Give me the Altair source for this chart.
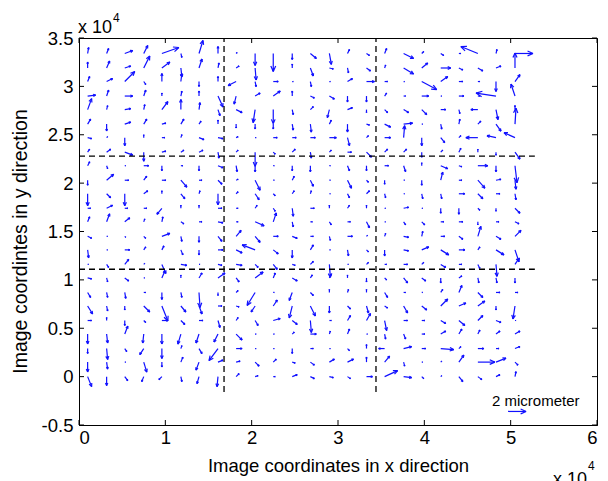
import math
import altair as alt
import pandas as pd

# ---------------- data ----------------
# grid positions of the arrows (x 10^4 image coordinates)
X_POS = [0.10, 0.32, 0.53, 0.75, 0.96, 1.18, 1.39, 1.61,
         1.82, 2.04, 2.25, 2.47, 2.68, 2.90, 3.11, 3.33,
         3.54, 3.76, 3.97, 4.19, 4.40, 4.62, 4.83, 5.05]
Y_POS = [0.00, 0.15, 0.29, 0.44, 0.58, 0.73, 0.87, 1.02,
         1.16, 1.31, 1.45, 1.60, 1.74, 1.89, 2.03, 2.18,
         2.32, 2.47, 2.61, 2.76, 2.90, 3.05, 3.19, 3.34]   # bottom -> top

# displacement components, top row first (units: 1/9 micrometre)
U_ROWS = [
    [1, 2, 8, 4, 17, 1, 4, 0, 1, 0, 0, 0, 6, 2, 2, 3, 2, 10, 2, 3, 2, -17, 1, 18],
    [0, 3, 6, 6, 8, 1, 3, 1, 3, 1, 0, 0, 3, 4, 1, 4, 1, 10, 6, 10, 4, 5, 5, 0],
    [2, 6, 10, 2, 0, 1, 0, 0, -8, 1, 5, 1, 1, 1, 5, 8, 3, 1, 15, 7, 4, 2, 0, 5],
    [8, 2, 8, 2, 0, 1, 0, 5, -2, 5, 7, 0, 4, 5, 0, 0, 2, 2, 7, 1, 5, 2, -20, -4],
    [4, 1, 6, 1, 6, 0, 1, 2, 6, -2, 0, 1, 3, -2, 5, 0, 3, 5, 5, 5, 1, -7, 2, 0],
    [3, 0, 6, 3, 4, 3, 2, 0, 0, 0, 0, 1, 1, 2, 0, 3, 6, 9, 1, 1, 1, 3, 5, 1],
    [4, 1, 0, 0, 3, 1, 5, 5, 2, 1, 4, 4, 5, 7, 2, 2, 6, 1, 0, 4, 2, -12, -9, -11],
    [2, 4, 8, 0, 4, 3, 4, 1, 2, 0, 2, 3, 1, 2, 4, 5, 3, 3, 0, 2, 2, 0, 0, 5],
    [2, 1, 1, 5, 0, 2, 0, 5, 1, 0, 1, 0, 0, 1, 2, 0, 4, 2, 0, 7, 3, 10, 0, 2],
    [0, 7, 4, 3, 4, 6, 3, 4, 2, 5, 1, 2, 3, 1, 4, 2, 0, 1, 0, 2, 3, 7, 5, 1],
    [0, 4, 0, 4, 0, 4, 1, 0, 2, 4, 2, 2, 1, 1, 2, 3, 1, 1, 1, 1, 6, 5, 4, 1],
    [3, 6, 3, 3, -5, 0, 0, 4, 2, 2, 2, 1, 4, 0, 2, 0, 1, 5, 1, 0, 0, 2, 0, 5],
    [2, 3, 5, 1, 1, 3, 3, 5, 2, 9, 3, 1, 2, 2, 3, 3, 1, 2, 3, 3, 4, 0, 3, 4],
    [4, 1, 1, 2, 8, 1, 0, 4, 5, 5, 5, 5, 3, 1, 5, 1, 1, 5, 1, 4, 4, 3, 5, 6],
    [1, 1, 5, 2, 2, 2, 0, 5, 6, -13, 5, 0, 3, 1, 1, 2, 0, 5, 7, 8, 6, 2, 8, 4],
    [1, 2, 4, 1, 4, 6, 1, 4, 6, 3, 4, 3, 3, 1, 1, 2, 2, 4, 2, 5, 3, 2, 1, 4],
    [4, 1, 4, 1, 3, 0, 3, 7, 3, 8, 2, 5, 2, 2, 0, 0, 2, 4, 4, 0, 3, 1, 1, 0],
    [3, 1, 1, 2, 0, 1, 1, 0, 2, -8, 1, -3, 3, 0, 1, 0, 3, 2, 1, 2, 3, 5, 4, 3],
    [5, 1, 0, 6, 6, 5, 3, 4, 3, -4, 4, -3, 5, 0, 3, 2, 3, 4, 5, 7, 7, 7, 0, -2],
    [4, 0, 0, 2, 6, 4, 4, 2, 2, 3, 7, 5, 1, 2, 3, 4, 2, 4, 3, 5, 6, 5, 5, 1],
    [0, 1, 3, -1, 0, -3, -3, -4, 6, 1, 1, 2, 6, 1, 2, 1, 1, 2, 3, 5, 3, 2, 4, 5],
    [0, 1, 2, -4, 0, 1, 3, -9, 6, 1, 1, 0, 3, 1, 2, 0, -6, 8, 4, 13, 2, 6, 3, 5],
    [0, 1, 1, 3, 0, 2, -3, 5, 4, 4, 3, 3, 4, 5, 6, 0, 5, 1, 1, 1, 5, 17, 10, 3],
    [4, 0, 3, -2, -3, 1, -2, -1, 3, 3, 2, 5, 4, 4, 3, 6, 13, 8, 2, 1, 4, 4, 4, 1],
]
V_ROWS = [
    [6, 5, 3, 8, 6, -4, 13, 7, 1, -12, -18, -6, -5, -11, 4, -2, 5, -5, 2, -2, 0, 7, 4, 0],
    [6, 7, 2, 12, 6, -9, 9, 5, 2, -12, -3, 4, -8, -1, -5, -3, 3, -6, 5, 0, -2, -3, 2, 15],
    [5, 3, 10, -3, 8, 8, -5, 5, -4, -5, 0, 0, -5, 0, 3, 0, 0, 0, -8, 5, 0, 0, -10, 7],
    [1, 6, 0, 6, 3, 5, 5, -11, -8, 3, 5, 5, -2, -3, -6, -6, 3, 0, 0, 0, 0, 0, 3, 12],
    [11, 4, 1, 5, 8, 10, 7, -6, -3, -13, -14, -5, 3, -8, 2, -3, -3, -3, -5, 0, -4, 0, -10, 4],
    [5, -7, 2, 5, 1, 5, 3, 4, -4, -5, -5, -6, -8, 4, -8, -1, -3, 1, 0, -5, 5, 3, -7, 16],
    [-1, 1, -8, 3, 0, 3, -2, -1, 1, 0, 0, 0, 0, 0, -8, 2, 0, 12, -8, -5, 2, 0, 2, 5],
    [3, 3, -3, -9, 1, 2, 2, -6, 2, -14, -2, 3, -6, 2, 0, -5, 3, 3, -5, 2, 4, 3, -3, -7],
    [4, -3, 0, 0, -5, 0, -5, -2, -6, -6, 0, -5, -6, 0, -5, -5, 0, -6, 3, -3, -1, 0, -6, -17],
    [-5, 6, 0, 4, 0, -7, 0, -4, 1, -10, 0, 4, -6, 0, -8, -2, -4, 0, -5, 8, 0, -8, 1, -9],
    [-12, -4, -12, 3, 3, -5, 3, -11, 2, -6, -2, 3, 3, 0, -4, 3, -4, 0, -5, -5, 0, -5, 0, -6],
    [0, 3, 0, 0, -6, 3, 3, 0, 0, 3, -3, -8, 0, 3, 3, 3, 0, 1, 0, -5, -6, -2, -3, -5],
    [5, 8, 4, 3, 5, -2, 0, -1, 0, -4, 9, -5, 0, -3, 0, -6, 0, -3, -3, 0, 0, -3, 0, -2],
    [-2, 0, -1, -2, 3, -5, -6, -5, 6, -6, 0, -2, 0, -4, 0, 1, 3, -1, 5, 0, -3, 10, -3, 6],
    [-8, 0, 0, 3, 4, -5, -5, 0, -3, 5, -4, -8, 5, 0, -6, -2, -6, -1, 3, -5, 0, 3, -5, -12],
    [0, -3, 5, 1, -9, -1, 0, -1, -1, -3, -5, -1, 3, -13, 0, 2, 0, 0, 2, -3, 0, -4, -12, 6],
    [-1, -4, -3, 0, 7, 3, 5, 5, -4, 6, 5, -3, 3, 4, 3, -4, -2, -5, -3, -5, 2, -5, -5, -5],
    [-5, -5, -6, 0, -7, -5, -15, -3, 2, -13, 0, -8, -3, 3, 3, 3, -5, 0, 0, 3, 7, -5, 0, 0],
    [-8, -5, -4, -6, -15, -6, -8, 0, -1, -6, 6, -12, -10, -7, -3, -7, -2, -7, -4, 7, 3, 5, -4, -13],
    [0, 3, -5, -2, 0, -4, 0, -7, 3, -5, 2, -4, -12, 0, 5, 7, -10, 0, 0, -3, -5, 5, -2, 0],
    [-10, -9, 8, -9, -10, -10, -9, -8, -6, 0, 0, 2, 0, 3, 5, 0, -5, -5, 0, 3, 5, 4, 3, 3],
    [-5, -11, -3, -6, -10, 3, -5, -12, 0, 0, 0, -5, 0, 0, -2, 4, 0, 2, 0, -1, 2, 0, 0, 2],
    [-10, -7, 0, -10, -5, 5, -8, 2, 1, -4, 3, -1, -3, 3, 3, 5, 6, -4, 0, 1, 7, 0, 4, -3],
    [-10, -9, -4, -5, -3, -5, -7, -10, 3, 1, 0, 2, -2, -1, -2, 0, 6, -1, -2, 1, -5, -3, 2, 5],
]

# scale reference arrow ("2 micrometer")
LEGEND_X, LEGEND_Y, LEGEND_U, LEGEND_V = 4.97, -0.36, 18, 0
LEGEND_TEXT = "2 micrometer"

# tile boundaries (dashed lines)
BOUND_X = [1.68, 3.44]
BOUND_X_Y0, BOUND_X_Y1 = -0.16, 3.5
BOUND_Y = [1.11, 2.28]
BOUND_Y_X0, BOUND_Y_X1 = 0.0, 5.28

X_TICKS = [0, 1, 2, 3, 4, 5, 6]
Y_TICKS = [-0.5, 0, 0.5, 1, 1.5, 2, 2.5, 3, 3.5]
X_DOMAIN = [0, 6]
Y_DOMAIN = [-0.5, 3.5]
X_TITLE = "Image coordinates in x direction"
Y_TITLE = "Image coordintes in y direction"

# ---------------- layout ----------------
W, H = 518, 387
FONT = "Liberation Sans"
BLUE = "#1010ff"
KX = W / (X_DOMAIN[1] - X_DOMAIN[0])   # px per x unit
KY = H / (Y_DOMAIN[1] - Y_DOMAIN[0])   # px per y unit
ARROW_PX = 1.0                         # px per displacement unit
HEAD_FRAC, HEAD_ANG = 0.33, 0.42

segs = []


def add_arrow(x0, y0, u, v):
    dxp, dyp = u * ARROW_PX, v * ARROW_PX
    x1, y1 = x0 + dxp / KX, y0 + dyp / KY
    segs.append({"x": x0, "y": y0, "x2": x1, "y2": y1})
    L = math.hypot(dxp, dyp)
    if L > 0:
        h = HEAD_FRAC * L
        bx, by = -dxp / L, -dyp / L
        for a in (HEAD_ANG, -HEAD_ANG):
            hx = bx * math.cos(a) - by * math.sin(a)
            hy = bx * math.sin(a) + by * math.cos(a)
            segs.append({"x": x1, "y": y1, "x2": x1 + h * hx / KX, "y2": y1 + h * hy / KY})


nrows = len(U_ROWS)
for r in range(nrows):
    yv = Y_POS[nrows - 1 - r]
    for c, xv in enumerate(X_POS):
        add_arrow(xv, yv, U_ROWS[r][c], V_ROWS[r][c])
add_arrow(LEGEND_X, LEGEND_Y, LEGEND_U, LEGEND_V)
seg_df = pd.DataFrame(segs)

xscale = alt.Scale(domain=X_DOMAIN, nice=False, zero=False)
yscale = alt.Scale(domain=Y_DOMAIN, nice=False, zero=False)

quiver = alt.Chart(seg_df).mark_rule(color=BLUE, strokeWidth=1.2).encode(
    x=alt.X("x:Q", scale=xscale,
            axis=alt.Axis(values=X_TICKS, labelExpr="datum.value + ''", title=X_TITLE,
                          ticks=False, labelPadding=3, titlePadding=10, grid=False)),
    y=alt.Y("y:Q", scale=yscale,
            axis=alt.Axis(values=Y_TICKS, labelExpr="datum.value + ''", title=Y_TITLE,
                          ticks=False, labelPadding=6, titlePadding=11, grid=False,
                          titleFontSize=19.5, titleY=203)),
    x2="x2:Q",
    y2="y2:Q",
)

vdash = alt.Chart(pd.DataFrame({"bx": BOUND_X, "y0": BOUND_X_Y0, "y1": BOUND_X_Y1})).mark_rule(
    color="black", strokeWidth=1.3, strokeDash=[6, 4]
).encode(x="bx:Q", y="y0:Q", y2="y1:Q")

hdash = alt.Chart(pd.DataFrame({"by": BOUND_Y, "x0": BOUND_Y_X0, "x1": BOUND_Y_X1})).mark_rule(
    color="black", strokeWidth=1.3, strokeDash=[6, 4]
).encode(y="by:Q", x="x0:Q", x2="x1:Q")

xt = pd.DataFrame({"v": X_TICKS})
yt = pd.DataFrame({"v": Y_TICKS})
tick_style = dict(color="black", strokeWidth=1)
ticks = [
    alt.Chart(xt).mark_rule(**tick_style).encode(x="v:Q", y=alt.value(H), y2=alt.value(H - 5)),
    alt.Chart(xt).mark_rule(**tick_style).encode(x="v:Q", y=alt.value(0), y2=alt.value(5)),
    alt.Chart(yt).mark_rule(**tick_style).encode(y="v:Q", x=alt.value(0), x2=alt.value(5)),
    alt.Chart(yt).mark_rule(**tick_style).encode(y="v:Q", x=alt.value(W), x2=alt.value(W - 5)),
]


def label(txt, px, py, size, align="left"):
    return alt.Chart(pd.DataFrame({"t": [txt]})).mark_text(
        align=align, baseline="alphabetic", fontSize=size, font=FONT, color="black"
    ).encode(x=alt.value(px), y=alt.value(py), text="t:N")


texts = [
    label("x 10", -1, -5, 18),
    label("4", 34, -16, 12),
    label("x 10", 474, 447, 18),
    label("4", 509, 432, 12),
    label(LEGEND_TEXT, 413, 368, 15),
]

chart = alt.layer(quiver, vdash, hdash, *ticks, *texts).properties(
    width=W, height=H,
    padding={"left": 71, "top": 30, "right": 3, "bottom": 57},
    autosize=alt.AutoSizeParams(type="none"),
).configure_view(stroke="black", strokeWidth=1).configure_axis(
    labelFont=FONT, titleFont=FONT, labelFontSize=18.5, titleFontSize=18.5,
    titleFontWeight="normal", labelColor="black", titleColor="black",
    domainColor="black", domainWidth=1,
)

chart.save("out.html", embed_options={"renderer": "svg", "actions": False})
